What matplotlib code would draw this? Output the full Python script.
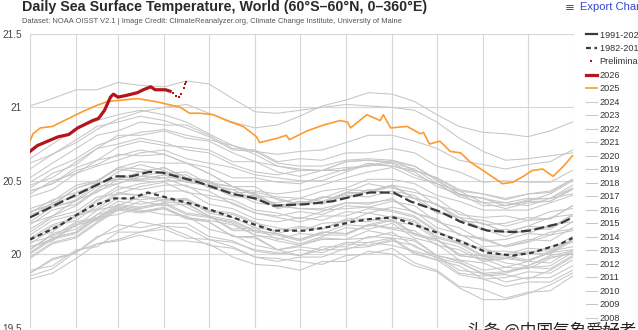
import matplotlib
matplotlib.use("Agg")
import matplotlib.pyplot as plt
from matplotlib.lines import Line2D

plt.rcParams['font.family'] = ['Liberation Sans', 'DejaVu Sans']

# --- data ---
MONTH_STARTS = [1, 32, 60, 91, 121, 152, 182, 213, 244, 274, 305, 335, 366]
Y_TICKS = [19.5, 20, 20.5, 21, 21.5]
Y_TICK_LABELS = ["19.5", "20", "20.5", "21", "21.5"]

mean_9120_doy = [1, 31, 58, 69, 81, 90, 114, 137, 152, 164, 186, 204, 216, 229, 245, 256, 276, 290, 308, 325, 336, 357, 365]
mean_9120 = [20.25, 20.40, 20.53, 20.53, 20.56, 20.555, 20.49, 20.41, 20.38, 20.33, 20.34, 20.36, 20.39, 20.42,
             20.42, 20.36, 20.29, 20.22, 20.16, 20.15, 20.16, 20.21, 20.25]

mean_8211_doy = [1, 20, 31, 43, 58, 69, 80, 91, 114, 137, 155, 164, 186, 204, 217, 230, 245, 256, 276, 294, 308, 325, 338, 357, 365]
mean_8211 = [20.10, 20.19, 20.26, 20.33, 20.38, 20.38, 20.42, 20.39, 20.33, 20.25, 20.19, 20.16, 20.16, 20.19,
             20.22, 20.24, 20.25, 20.21, 20.14, 20.07, 20.01, 19.99, 20.01, 20.07, 20.11]

doy_2026 = [1, 6, 13, 20, 27, 33, 43, 47, 51, 55, 57, 60, 65, 73, 77, 82, 85, 92, 95]
sst_2026 = [20.70, 20.74, 20.77, 20.80, 20.815, 20.86, 20.91, 20.925, 20.98, 21.07, 21.09, 21.07, 21.08, 21.10,
            21.12, 21.14, 21.12, 21.12, 21.11]

doy_prelim = [97, 99, 101, 102, 104, 105, 106]
sst_prelim = [21.10, 21.08, 21.07, 21.09, 21.13, 21.16, 21.17]

doy_2025 = [1, 3, 8, 16, 24, 36, 45, 53, 63, 73, 85, 98, 102, 108, 115, 124, 133, 144, 153, 155, 167, 173, 175,
            187, 198, 209, 214, 216, 227, 236, 238, 243, 254, 263, 265, 269, 276, 283, 290, 296, 305, 318, 325,
            332, 338, 345, 352, 359, 365]
sst_2025 = [20.77, 20.82, 20.86, 20.87, 20.91, 20.97, 21.01, 21.04, 21.05, 21.06, 21.04, 21.01, 21.00, 20.96,
            20.96, 20.95, 20.91, 20.87, 20.80, 20.76, 20.79, 20.81, 20.78, 20.84, 20.88, 20.91, 20.90, 20.86,
            20.95, 20.91, 20.95, 20.86, 20.87, 20.82, 20.83, 20.75, 20.77, 20.70, 20.69, 20.63, 20.57, 20.48,
            20.49, 20.53, 20.57, 20.58, 20.53, 20.60, 20.67]

# earlier years, sampled about twice a month
doy_hist = [1, 16, 32, 46, 60, 75, 91, 106, 121, 137, 152, 167, 182, 197, 213, 228, 244, 259, 274, 289, 305, 320, 335, 350, 365]
sst_1982 = [19.85, 19.90, 20.02, 20.07, 20.10, 20.15, 20.17, 20.11, 20.10, 20.05, 19.98, 19.95, 19.98, 19.98, 20.04, 20.05, 20.09, 20.06, 19.97, 19.94, 19.87, 19.88, 19.91, 19.92, 20.01]
sst_1983 = [20.07, 20.17, 20.26, 20.30, 20.38, 20.37, 20.39, 20.32, 20.25, 20.21, 20.13, 20.09, 20.06, 20.10, 20.10, 20.11, 20.15, 20.05, 19.99, 19.89, 19.87, 19.81, 19.84, 19.84, 19.92]
sst_1984 = [19.89, 19.92, 20.03, 20.05, 20.15, 20.15, 20.19, 20.13, 20.06, 20.04, 19.98, 19.97, 19.95, 19.93, 19.99, 20.00, 20.04, 19.94, 19.89, 19.78, 19.76, 19.70, 19.74, 19.75, 19.85]
sst_1985 = [19.83, 19.87, 19.97, 20.07, 20.09, 20.13, 20.09, 20.09, 20.07, 19.98, 19.93, 19.92, 19.89, 19.95, 19.95, 20.02, 20.00, 19.92, 19.88, 19.77, 19.69, 19.69, 19.73, 19.79, 19.87]
sst_1986 = [19.87, 19.96, 20.01, 20.12, 20.16, 20.22, 20.19, 20.18, 20.10, 20.08, 20.03, 20.01, 19.99, 20.05, 20.05, 20.12, 20.11, 20.09, 19.99, 19.96, 19.89, 19.91, 19.90, 19.97, 20.01]
sst_1987 = [20.03, 20.14, 20.19, 20.30, 20.33, 20.39, 20.36, 20.37, 20.29, 20.27, 20.21, 20.18, 20.15, 20.21, 20.22, 20.28, 20.25, 20.22, 20.11, 20.07, 19.98, 19.99, 19.96, 20.01, 20.03]
sst_1988 = [20.05, 20.09, 20.20, 20.23, 20.31, 20.29, 20.31, 20.25, 20.22, 20.12, 20.11, 20.03, 20.05, 20.03, 20.08, 20.08, 20.11, 20.01, 19.96, 19.86, 19.83, 19.78, 19.81, 19.81, 19.89]
sst_1989 = [19.87, 19.97, 20.01, 20.11, 20.20, 20.18, 20.21, 20.21, 20.12, 20.09, 20.02, 20.00, 20.03, 20.01, 20.07, 20.06, 20.10, 20.00, 19.96, 19.92, 19.83, 19.84, 19.88, 19.87, 19.96]
sst_1990 = [19.98, 20.08, 20.12, 20.22, 20.31, 20.29, 20.32, 20.25, 20.23, 20.20, 20.13, 20.11, 20.07, 20.12, 20.18, 20.17, 20.21, 20.11, 20.07, 19.96, 19.94, 19.88, 19.92, 19.98, 20.00]
sst_1991 = [20.01, 20.11, 20.15, 20.27, 20.30, 20.36, 20.33, 20.34, 20.26, 20.17, 20.18, 20.10, 20.14, 20.13, 20.13, 20.20, 20.18, 20.16, 20.06, 20.03, 19.95, 19.97, 19.95, 20.02, 20.05]
sst_1992 = [20.05, 20.10, 20.21, 20.24, 20.32, 20.30, 20.27, 20.26, 20.17, 20.13, 20.06, 20.03, 19.99, 20.03, 20.03, 20.08, 20.06, 20.02, 19.98, 19.87, 19.85, 19.86, 19.83, 19.89, 19.98]
sst_1993 = [19.97, 20.07, 20.11, 20.21, 20.30, 20.28, 20.31, 20.24, 20.22, 20.12, 20.12, 20.03, 20.06, 20.11, 20.10, 20.16, 20.13, 20.10, 19.99, 19.95, 19.86, 19.87, 19.91, 19.90, 19.99]
sst_1994 = [20.00, 20.10, 20.14, 20.24, 20.33, 20.31, 20.34, 20.27, 20.25, 20.22, 20.15, 20.13, 20.09, 20.14, 20.20, 20.19, 20.23, 20.13, 20.09, 20.05, 19.96, 19.97, 20.01, 20.00, 20.09]
sst_1995 = [20.11, 20.15, 20.27, 20.31, 20.41, 20.40, 20.37, 20.38, 20.30, 20.28, 20.22, 20.14, 20.18, 20.17, 20.24, 20.24, 20.22, 20.20, 20.10, 20.00, 19.99, 19.94, 19.92, 19.99, 20.02]
sst_1996 = [20.01, 20.11, 20.15, 20.25, 20.27, 20.32, 20.35, 20.28, 20.26, 20.16, 20.16, 20.14, 20.10, 20.15, 20.14, 20.20, 20.24, 20.14, 20.10, 19.99, 19.97, 19.98, 19.95, 20.01, 20.10]
sst_1997 = [20.11, 20.20, 20.25, 20.36, 20.44, 20.48, 20.50, 20.50, 20.47, 20.44, 20.43, 20.41, 20.43, 20.47, 20.52, 20.56, 20.59, 20.52, 20.48, 20.40, 20.38, 20.35, 20.38, 20.38, 20.45]
sst_1998 = [20.43, 20.48, 20.57, 20.61, 20.68, 20.67, 20.68, 20.62, 20.55, 20.46, 20.41, 20.33, 20.31, 20.30, 20.31, 20.32, 20.30, 20.26, 20.16, 20.07, 20.04, 19.99, 20.02, 20.02, 20.10]
sst_1999 = [20.08, 20.12, 20.22, 20.25, 20.34, 20.32, 20.35, 20.35, 20.26, 20.23, 20.16, 20.14, 20.10, 20.15, 20.14, 20.20, 20.17, 20.14, 20.10, 19.99, 19.97, 19.91, 19.95, 19.94, 20.03]
sst_2000 = [20.03, 20.13, 20.17, 20.27, 20.36, 20.34, 20.37, 20.37, 20.28, 20.25, 20.18, 20.16, 20.19, 20.17, 20.23, 20.22, 20.26, 20.23, 20.12, 20.08, 19.99, 20.00, 20.04, 20.03, 20.12]
sst_2001 = [20.13, 20.23, 20.27, 20.37, 20.46, 20.44, 20.47, 20.47, 20.38, 20.35, 20.28, 20.26, 20.29, 20.27, 20.33, 20.32, 20.36, 20.33, 20.22, 20.18, 20.09, 20.10, 20.14, 20.13, 20.22]
sst_2002 = [20.21, 20.26, 20.37, 20.42, 20.51, 20.51, 20.54, 20.49, 20.47, 20.39, 20.39, 20.32, 20.35, 20.35, 20.41, 20.42, 20.46, 20.38, 20.34, 20.25, 20.23, 20.19, 20.23, 20.24, 20.33]
sst_2003 = [20.31, 20.36, 20.47, 20.50, 20.58, 20.56, 20.59, 20.52, 20.50, 20.40, 20.40, 20.38, 20.34, 20.39, 20.38, 20.44, 20.41, 20.38, 20.34, 20.23, 20.21, 20.15, 20.19, 20.18, 20.27]
sst_2004 = [20.25, 20.35, 20.39, 20.49, 20.51, 20.56, 20.59, 20.52, 20.50, 20.40, 20.40, 20.31, 20.34, 20.39, 20.38, 20.44, 20.41, 20.38, 20.34, 20.23, 20.21, 20.15, 20.19, 20.25, 20.27]
sst_2005 = [20.29, 20.33, 20.45, 20.49, 20.59, 20.58, 20.55, 20.56, 20.48, 20.46, 20.40, 20.32, 20.36, 20.35, 20.42, 20.42, 20.47, 20.38, 20.28, 20.25, 20.17, 20.12, 20.17, 20.17, 20.26]
sst_2006 = [20.22, 20.32, 20.36, 20.46, 20.48, 20.53, 20.56, 20.49, 20.47, 20.44, 20.37, 20.35, 20.38, 20.36, 20.42, 20.48, 20.45, 20.42, 20.38, 20.27, 20.25, 20.26, 20.23, 20.29, 20.31]
sst_2007 = [20.27, 20.32, 20.37, 20.48, 20.51, 20.50, 20.52, 20.46, 20.43, 20.34, 20.28, 20.25, 20.22, 20.26, 20.26, 20.31, 20.29, 20.25, 20.15, 20.10, 20.02, 20.02, 20.00, 20.05, 20.08]
sst_2008 = [20.09, 20.19, 20.23, 20.33, 20.42, 20.40, 20.43, 20.43, 20.34, 20.31, 20.24, 20.22, 20.25, 20.23, 20.29, 20.28, 20.32, 20.29, 20.18, 20.14, 20.05, 20.06, 20.10, 20.09, 20.18]
sst_2009 = [20.17, 20.26, 20.33, 20.43, 20.48, 20.53, 20.52, 20.52, 20.49, 20.42, 20.42, 20.39, 20.38, 20.43, 20.45, 20.51, 20.51, 20.48, 20.40, 20.36, 20.30, 20.30, 20.30, 20.35, 20.40]
sst_2010 = [20.41, 20.50, 20.55, 20.64, 20.67, 20.71, 20.68, 20.62, 20.55, 20.46, 20.41, 20.33, 20.31, 20.31, 20.35, 20.35, 20.37, 20.28, 20.23, 20.13, 20.10, 20.05, 20.08, 20.13, 20.16]
sst_2011 = [20.15, 20.25, 20.29, 20.39, 20.41, 20.46, 20.49, 20.42, 20.40, 20.37, 20.30, 20.28, 20.24, 20.29, 20.35, 20.34, 20.38, 20.28, 20.24, 20.13, 20.11, 20.05, 20.09, 20.15, 20.17]
sst_2012 = [20.20, 20.30, 20.34, 20.44, 20.53, 20.51, 20.54, 20.54, 20.45, 20.42, 20.35, 20.33, 20.36, 20.34, 20.40, 20.39, 20.43, 20.40, 20.29, 20.25, 20.16, 20.17, 20.14, 20.20, 20.22]
sst_2013 = [20.28, 20.37, 20.42, 20.47, 20.56, 20.61, 20.57, 20.51, 20.49, 20.46, 20.46, 20.37, 20.34, 20.38, 20.44, 20.43, 20.47, 20.44, 20.33, 20.29, 20.20, 20.21, 20.25, 20.24, 20.33]
sst_2014 = [20.29, 20.34, 20.45, 20.50, 20.59, 20.63, 20.62, 20.62, 20.59, 20.52, 20.52, 20.49, 20.48, 20.53, 20.58, 20.60, 20.64, 20.57, 20.52, 20.44, 20.41, 20.38, 20.41, 20.43, 20.51]
sst_2015 = [20.49, 20.58, 20.65, 20.74, 20.79, 20.83, 20.85, 20.81, 20.78, 20.74, 20.70, 20.68, 20.70, 20.71, 20.76, 20.81, 20.81, 20.77, 20.72, 20.64, 20.61, 20.58, 20.61, 20.63, 20.71]
sst_2016 = [20.65, 20.75, 20.85, 20.91, 20.95, 20.98, 20.95, 20.90, 20.82, 20.74, 20.68, 20.60, 20.58, 20.57, 20.59, 20.60, 20.62, 20.54, 20.48, 20.39, 20.35, 20.31, 20.35, 20.36, 20.45]
sst_2017 = [20.45, 20.55, 20.61, 20.72, 20.81, 20.81, 20.84, 20.79, 20.77, 20.69, 20.63, 20.60, 20.57, 20.57, 20.63, 20.64, 20.62, 20.58, 20.48, 20.43, 20.35, 20.35, 20.33, 20.38, 20.41]
sst_2018 = [20.39, 20.44, 20.55, 20.60, 20.64, 20.69, 20.71, 20.65, 20.62, 20.59, 20.54, 20.52, 20.50, 20.50, 20.56, 20.61, 20.60, 20.57, 20.52, 20.43, 20.41, 20.37, 20.41, 20.42, 20.51]
sst_2019 = [20.52, 20.62, 20.72, 20.81, 20.84, 20.90, 20.88, 20.88, 20.81, 20.72, 20.71, 20.63, 20.65, 20.64, 20.69, 20.69, 20.72, 20.69, 20.60, 20.56, 20.49, 20.50, 20.49, 20.49, 20.57]
sst_2020 = [20.58, 20.68, 20.78, 20.87, 20.90, 20.94, 20.91, 20.86, 20.80, 20.71, 20.70, 20.62, 20.60, 20.60, 20.64, 20.65, 20.64, 20.60, 20.50, 20.41, 20.38, 20.33, 20.36, 20.36, 20.44]
sst_2021 = [20.43, 20.48, 20.59, 20.64, 20.73, 20.77, 20.74, 20.73, 20.71, 20.63, 20.63, 20.56, 20.53, 20.57, 20.57, 20.62, 20.60, 20.56, 20.46, 20.41, 20.33, 20.33, 20.37, 20.38, 20.47]
sst_2022 = [20.47, 20.52, 20.63, 20.72, 20.75, 20.79, 20.76, 20.71, 20.69, 20.61, 20.56, 20.54, 20.57, 20.57, 20.63, 20.64, 20.63, 20.60, 20.51, 20.41, 20.38, 20.33, 20.36, 20.41, 20.50]
sst_2023 = [20.62, 20.68, 20.76, 20.85, 20.92, 20.97, 21.00, 21.02, 20.96, 20.90, 20.86, 20.88, 20.94, 21.01, 21.05, 21.10, 21.09, 21.04, 20.95, 20.87, 20.83, 20.82, 20.80, 20.84, 20.90]
sst_2024 = [21.01, 21.06, 21.12, 21.12, 21.17, 21.15, 21.14, 21.18, 21.16, 21.06, 20.97, 20.96, 20.98, 21.00, 21.02, 21.01, 21.00, 20.98, 20.90, 20.79, 20.70, 20.64, 20.65, 20.67, 20.69]

HIST_YEARS = list(range(2024, 1981, -1))
history = {y: globals()[f"sst_{y}"] for y in HIST_YEARS}

RED = "#b5141b"
ORANGE = "#ff9a2e"
GRAY = "#c6c6c6"
DARK = "#3a3a3a"

fig = plt.figure(figsize=(6.38, 3.30), dpi=100)
ax = fig.add_axes([30 / 638, 2.5 / 330, 544 / 638, 293.5 / 330])

handles = {}
for y in HIST_YEARS[::-1]:
    handles[str(y)], = ax.plot(doy_hist, history[y], color=GRAY, lw=0.75, zorder=2)

handles["1982-2011 mean"], = ax.plot(mean_8211_doy, mean_8211, color=DARK, lw=1.6, dashes=(2.2, 1.6), zorder=4)
handles["1991-2020 mean"], = ax.plot(mean_9120_doy, mean_9120, color=DARK, lw=1.6, dashes=(4.5, 1.6), zorder=4)
handles["2025"], = ax.plot(doy_2025, sst_2025, color=ORANGE, lw=1.2, zorder=5)
handles["2026"], = ax.plot(doy_2026, sst_2026, color=RED, lw=2.3, zorder=6)
handles["Preliminary"], = ax.plot(doy_prelim, sst_prelim, ls="none", marker="s", ms=1.6, mew=0,
                                  color=RED, zorder=6)

ax.set_xlim(1, 366)
ax.set_ylim(19.5, 21.5)
ax.set_xticks(MONTH_STARTS)
ax.set_xticklabels([])
ax.set_yticks(Y_TICKS)
ax.set_yticklabels(Y_TICK_LABELS)
ax.tick_params(length=0, pad=6, labelsize=7.2, labelcolor="#444444")
ax.grid(True, color="#d6d6d6", lw=0.8, zorder=0)
for s in ax.spines.values():
    s.set_visible(False)

order = ["1991-2020 mean", "1982-2011 mean", "Preliminary", "2026", "2025"] + [str(y) for y in HIST_YEARS]
leg_handles = []
for k in order:
    h = handles[k]
    if k == "Preliminary":
        leg_handles.append(Line2D([], [], ls="none", marker="s", ms=1.6, mew=0, color=RED))
    elif k == "1991-2020 mean":
        leg_handles.append(Line2D([], [], color=DARK, lw=1.6))
    else:
        leg_handles.append(h)
fig.legend(leg_handles, order, loc="upper left", bbox_to_anchor=(586 / 638, 1 - 30.5 / 330),
           frameon=False, fontsize=6.6, handlelength=1.15, handletextpad=0.35,
           labelspacing=0.49, borderpad=0, borderaxespad=0, labelcolor="#333333")

fig.text(22 / 638, 1 - 7.5 / 330, "Daily Sea Surface Temperature, World (60°S–60°N, 0–360°E)",
         fontsize=10.3, fontweight="bold", color="#2a2a2a", va="center", ha="left")
fig.text(22 / 638, 1 - 21.5 / 330,
         "Dataset: NOAA OISST V2.1 | Image Credit: ClimateReanalyzer.org, Climate Change Institute, University of Maine",
         fontsize=5.4, color="#555555", va="center", ha="left")
fig.text(565 / 638, 1 - 7 / 330, "≡", family="DejaVu Sans", fontsize=8.5, color="#555555",
         va="center", ha="left")
fig.text(580 / 638, 1 - 7 / 330, "Export Chart", fontsize=8, color="#3344cc", va="center", ha="left")
fig.text(467 / 638, 8 / 330, "头条 @中国气象爱好者", family=["Noto Sans CJK SC", "DejaVu Sans"],
         fontsize=12, color="#222222", va="top", ha="left")

fig.savefig("out.png", dpi=100)
